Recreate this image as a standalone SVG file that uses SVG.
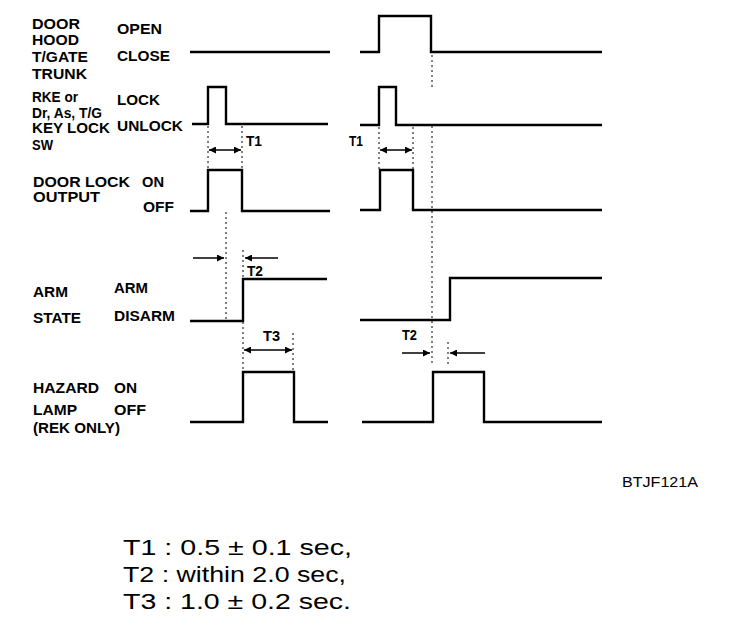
<svg xmlns="http://www.w3.org/2000/svg" width="736" height="640" viewBox="0 0 736 640">
<style>
.lbl{font-family:"Liberation Sans",Arial,sans-serif;font-size:14px;font-weight:bold;fill:#000}
.tl{font-family:"Liberation Sans",Arial,sans-serif;font-size:15px;font-weight:bold;fill:#000}
.big{font-family:"Liberation Sans",Arial,sans-serif;font-size:22px;fill:#000}
.code{font-family:"Liberation Sans",Arial,sans-serif;font-size:15px;fill:#000}
.sig{fill:none;stroke:#000;stroke-width:2.4;stroke-linejoin:miter}
.dot{fill:none;stroke:#000;stroke-width:1;stroke-dasharray:2 3}
.arr{fill:none;stroke:#000;stroke-width:1.5}
</style>
<defs>
<marker id="ah" viewBox="0 0 10 10" refX="10" refY="5" markerWidth="8" markerHeight="7" markerUnits="userSpaceOnUse" orient="auto-start-reverse">
<path d="M0,0 L10,5 L0,10 z" fill="#000"/>
</marker>
</defs>
<rect width="736" height="640" fill="#fff"/>

<g id="door-row">
<text class="lbl" x="32" y="29" textLength="48" lengthAdjust="spacingAndGlyphs">DOOR</text>
<text class="lbl" x="32" y="45" textLength="47" lengthAdjust="spacingAndGlyphs">HOOD</text>
<text class="lbl" x="32" y="62" textLength="56" lengthAdjust="spacingAndGlyphs">T/GATE</text>
<text class="lbl" x="32" y="79" textLength="55" lengthAdjust="spacingAndGlyphs">TRUNK</text>
<text class="lbl" x="117" y="34" textLength="45" lengthAdjust="spacingAndGlyphs">OPEN</text>
<text class="lbl" x="117" y="61" textLength="53" lengthAdjust="spacingAndGlyphs">CLOSE</text>
<path class="sig" d="M190,52 H330"/>
<path class="sig" d="M360,52 H379 V16 H431 V52 H602"/>
</g>

<g id="rke-row">
<text class="lbl" x="32" y="102" textLength="46" lengthAdjust="spacingAndGlyphs">RKE or</text>
<text class="lbl" x="32" y="118" textLength="70" lengthAdjust="spacingAndGlyphs">Dr, As, T/G</text>
<text class="lbl" x="32" y="133" textLength="78" lengthAdjust="spacingAndGlyphs">KEY LOCK</text>
<text class="lbl" x="32" y="150" textLength="21" lengthAdjust="spacingAndGlyphs">SW</text>
<text class="lbl" x="117" y="105" textLength="43" lengthAdjust="spacingAndGlyphs">LOCK</text>
<text class="lbl" x="117" y="131" textLength="66" lengthAdjust="spacingAndGlyphs">UNLOCK</text>
<path class="sig" d="M192,124 H208 V87 H226 V124 H328"/>
<path class="sig" d="M360,125 H379 V87 H396 V125 H602"/>
</g>

<g id="doorlock-row">
<text class="lbl" x="33" y="187" textLength="97" lengthAdjust="spacingAndGlyphs">DOOR LOCK</text>
<text class="lbl" x="142" y="187" textLength="22" lengthAdjust="spacingAndGlyphs">ON</text>
<text class="lbl" x="33" y="202" textLength="67" lengthAdjust="spacingAndGlyphs">OUTPUT</text>
<text class="lbl" x="143" y="212" textLength="31" lengthAdjust="spacingAndGlyphs">OFF</text>
<path class="sig" d="M190,211 H208 V170 H242 V211 H330"/>
<path class="sig" d="M360,210 H380 V170 H413 V210 H602"/>
</g>

<g id="arm-row">
<text class="lbl" x="33" y="297" textLength="35" lengthAdjust="spacingAndGlyphs">ARM</text>
<text class="lbl" x="114" y="293" textLength="34" lengthAdjust="spacingAndGlyphs">ARM</text>
<text class="lbl" x="33" y="323" textLength="48" lengthAdjust="spacingAndGlyphs">STATE</text>
<text class="lbl" x="114" y="321" textLength="61" lengthAdjust="spacingAndGlyphs">DISARM</text>
<path class="sig" d="M190,321 H243 V279 H327"/>
<path class="sig" d="M360,320 H450 V278 H602"/>
</g>

<g id="hazard-row">
<text class="lbl" x="33" y="393" textLength="66" lengthAdjust="spacingAndGlyphs">HAZARD</text>
<text class="lbl" x="114" y="393" textLength="23" lengthAdjust="spacingAndGlyphs">ON</text>
<text class="lbl" x="33" y="415" textLength="44" lengthAdjust="spacingAndGlyphs">LAMP</text>
<text class="lbl" x="114" y="415" textLength="32" lengthAdjust="spacingAndGlyphs">OFF</text>
<text class="lbl" x="33" y="433" textLength="87" lengthAdjust="spacingAndGlyphs">(REK ONLY)</text>
<path class="sig" d="M190,422 H243 V372 H294 V422 H328"/>
<path class="sig" d="M362,422 H433 V372 H484 V422 H602"/>
</g>

<g id="connectors">
<path class="dot" d="M208,126 V170 M242,126 V170 M226,212 V321 M243,250 V279 M243,322 V372 M293,333 V372"/>
<path class="dot" d="M379,127 V170 M413,127 V170 M432,55 V88 M432,126 V366 M448,342 V364"/>
<line class="arr" x1="209" y1="150" x2="241" y2="150" marker-start="url(#ah)" marker-end="url(#ah)"/>
<line class="arr" x1="380" y1="150" x2="412" y2="150" marker-start="url(#ah)" marker-end="url(#ah)"/>
<line class="arr" x1="193" y1="258" x2="224" y2="258" marker-end="url(#ah)"/>
<line class="arr" x1="278" y1="258" x2="245" y2="258" marker-end="url(#ah)"/>
<line class="arr" x1="244" y1="350" x2="292" y2="350" marker-start="url(#ah)" marker-end="url(#ah)"/>
<line class="arr" x1="402" y1="353" x2="430" y2="353" marker-end="url(#ah)"/>
<line class="arr" x1="485" y1="353" x2="450" y2="353" marker-end="url(#ah)"/>
</g>

<g id="time-labels">
<text class="tl" x="246" y="146" textLength="16" lengthAdjust="spacingAndGlyphs">T1</text>
<text class="tl" x="349" y="146" textLength="14" lengthAdjust="spacingAndGlyphs">T1</text>
<text class="tl" x="247" y="276" textLength="16" lengthAdjust="spacingAndGlyphs">T2</text>
<text class="tl" x="263" y="341" textLength="17" lengthAdjust="spacingAndGlyphs">T3</text>
<text class="tl" x="402" y="340" textLength="15" lengthAdjust="spacingAndGlyphs">T2</text>
</g>

<g id="code">
<text class="code" x="622" y="487" textLength="76" lengthAdjust="spacingAndGlyphs">BTJF121A</text>
</g>

<g id="legend">
<text class="big" x="123" y="555" textLength="229" lengthAdjust="spacingAndGlyphs">T1 : 0.5 ± 0.1 sec,</text>
<text class="big" x="123" y="582" textLength="223" lengthAdjust="spacingAndGlyphs">T2 : within 2.0 sec,</text>
<text class="big" x="123" y="609" textLength="228" lengthAdjust="spacingAndGlyphs">T3 : 1.0 ± 0.2 sec.</text>
</g>
</svg>
